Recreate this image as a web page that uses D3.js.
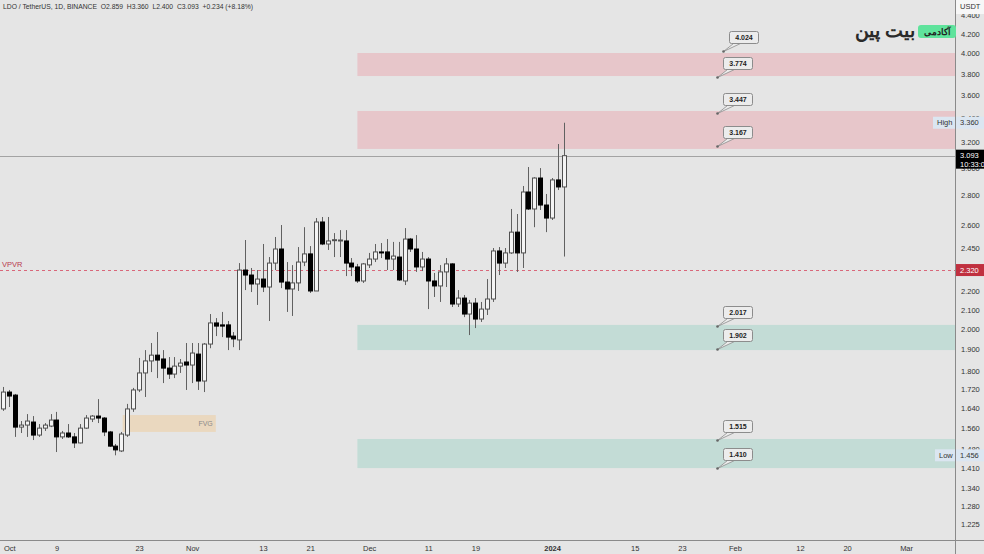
<html>
<head>
<script src="https://cdn.jsdelivr.net/npm/d3@7"></script>
<style>
  body { margin: 0; background: #e5e5e5; overflow: hidden; }
  text { font-family: "Liberation Sans Narrow", "Liberation Sans", Arial, sans-serif; }
</style>
</head>
<body>
<div id="vis"></div>
<script>
// daily candles, first one is 2023-09-30
var firstDay = Date.UTC(2023, 8, 30)
var opens = [1.636,1.707,1.694,1.563,1.571,1.583,1.532,1.559,1.567,1.591,
  1.525,1.540,1.525,1.502,1.559,1.595,1.607,1.599,1.544,1.490,
  1.472,1.532,1.636,1.716,1.791,1.846,1.873,1.855,1.813,1.786,
  1.822,1.841,1.827,1.878,1.755,1.926,2.031,2.021,2.021,1.965,
  1.946,2.320,2.291,2.240,2.268,2.223,2.361,2.446,2.251,2.212,
  2.246,2.367,2.416,2.201,2.618,2.477,2.502,2.500,2.496,2.361,
  2.338,2.257,2.350,2.385,2.428,2.428,2.385,2.397,2.257,2.508,
  2.446,2.338,2.385,2.257,2.229,2.309,2.356,2.130,2.162,2.077,
  2.135,2.051,2.103,2.157,2.434,2.361,2.422,2.552,2.422,2.823,
  2.705,2.924,2.732,2.644,2.910,2.859]
var highs = [1.729,1.716,1.699,1.587,1.615,1.607,1.575,1.579,1.615,1.624,
  1.548,1.575,1.540,1.575,1.611,1.611,1.677,1.603,1.548,1.498,
  1.544,1.657,1.725,1.860,1.897,1.931,1.985,1.897,1.864,1.864,
  1.855,1.931,1.931,1.931,1.931,2.077,2.056,2.088,2.041,1.985,
  2.361,2.502,2.332,2.320,2.477,2.397,2.521,2.598,2.367,2.349,
  2.458,2.584,2.464,2.644,2.651,2.651,2.546,2.565,2.565,2.391,
  2.356,2.361,2.422,2.477,2.483,2.508,2.490,2.490,2.578,2.515,
  2.533,2.428,2.397,2.303,2.349,2.391,2.360,2.206,2.179,2.152,
  2.162,2.141,2.268,2.452,2.458,2.452,2.705,2.671,2.866,3.006,
  2.930,2.998,2.809,2.924,3.185,3.360]
var lows = [1.628,1.644,1.525,1.540,1.525,1.513,1.525,1.548,1.563,1.468,
  1.517,1.521,1.483,1.500,1.556,1.583,1.579,1.528,1.487,1.456,
  1.468,1.525,1.624,1.707,1.686,1.795,1.768,1.746,1.764,1.768,
  1.791,1.716,1.746,1.716,1.707,1.906,1.965,1.960,1.897,1.911,
  1.897,2.206,2.195,2.125,2.195,2.041,2.320,2.217,2.088,2.067,
  2.201,2.343,2.190,2.201,2.470,2.440,2.397,2.397,2.285,2.285,
  2.246,2.246,2.332,2.367,2.391,2.320,2.320,2.257,2.234,2.428,
  2.309,2.314,2.103,2.168,2.141,2.223,2.114,2.114,2.061,1.970,
  2.005,2.036,2.072,2.141,2.291,2.332,2.416,2.309,2.332,2.698,
  2.584,2.698,2.552,2.631,2.837,2.400]
var closes = [1.707,1.690,1.563,1.571,1.587,1.532,1.559,1.571,1.591,1.525,
  1.540,1.525,1.502,1.559,1.599,1.607,1.599,1.544,1.490,1.476,
  1.536,1.636,1.716,1.791,1.846,1.873,1.850,1.813,1.786,1.822,
  1.836,1.827,1.883,1.755,1.926,2.031,2.015,2.015,1.960,1.951,
  2.320,2.291,2.240,2.268,2.223,2.361,2.446,2.251,2.212,2.246,
  2.367,2.416,2.201,2.618,2.477,2.496,2.504,2.502,2.361,2.338,
  2.257,2.356,2.385,2.428,2.422,2.385,2.403,2.263,2.508,2.446,
  2.338,2.385,2.257,2.229,2.309,2.356,2.130,2.162,2.077,2.135,
  2.051,2.103,2.157,2.434,2.361,2.422,2.552,2.422,2.823,2.705,
  2.924,2.732,2.644,2.910,2.859,3.093]

var yTicks = [4.4,4.2,4.0,3.8,3.6,3.4,3.2,3.0,2.8,2.6,2.45,2.3,2.2,2.1,2.0,1.9,1.8,1.72,1.64,1.56,1.48,1.41,1.34,1.28,1.225]
var xTickDates = ["2023-10-01","2023-10-09","2023-10-23","2023-11-01","2023-11-13","2023-11-21","2023-12-01","2023-12-11","2023-12-19","2024-01-01","2024-01-15","2024-01-23","2024-02-01","2024-02-12","2024-02-20","2024-03-01"]
var xTickLabels = ["Oct","9","23","Nov","13","21","Dec","11","19","2024","15","23","Feb","12","20","Mar"]

// supply / demand boxes
var zoneLows  = [3.779, 3.146, 1.897, 1.410]
var zoneHighs = [4.004, 3.461, 2.021, 1.517]
var zoneKinds = ["sell", "sell", "buy", "buy"]
var zoneStart = "2023-11-29"
var fvgRange = [1.544, 1.611]
var fvgDates = ["2023-10-20T05:00Z", "2023-11-05"]

// callout labels
var calloutValues = [4.024, 3.774, 3.447, 3.167, 2.017, 1.902, 1.515, 1.410]
var calloutDates = ["2024-01-30","2024-01-29","2024-01-29","2024-01-29","2024-01-29","2024-01-29","2024-01-29","2024-01-29"]

var lastPrice = 3.093
var vpvrLevel = 2.320
var highPrice = 3.360
var lowPrice = 1.456

var W = 984, H = 554
var plotW = 955, plotH = 540

var candles = opens.map(function(o, i) {
  return { date: new Date(firstDay + i * 864e5), o: o, h: highs[i], l: lows[i], c: closes[i] }
})

var x = d3.scaleUtc()
  .domain([new Date(Date.UTC(2023, 8, 29, 10, 10)), new Date(Date.UTC(2024, 2, 9, 7))])
  .range([0, plotW])
var y = d3.scaleLog().domain([4.575, 1.1767]).range([0, plotH])

var svg = d3.select("#vis").append("svg")
  .attr("width", W).attr("height", H)
  .style("background", "#e5e5e5")

svg.append("defs").append("clipPath").attr("id", "plotClip")
  .append("rect").attr("width", plotW).attr("height", plotH)

var plot = svg.append("g").attr("clip-path", "url(#plotClip)")

// zones
zoneLows.forEach(function(lo, i) {
  plot.append("rect")
    .attr("x", x(new Date(zoneStart)))
    .attr("y", y(zoneHighs[i]))
    .attr("width", plotW - x(new Date(zoneStart)))
    .attr("height", y(lo) - y(zoneHighs[i]))
    .attr("fill", zoneKinds[i] == "sell" ? "#e7c6ca" : "#c3dcd6")
})

// FVG
plot.append("rect")
  .attr("x", x(new Date(fvgDates[0])))
  .attr("y", y(fvgRange[1]))
  .attr("width", x(new Date(fvgDates[1])) - x(new Date(fvgDates[0])))
  .attr("height", y(fvgRange[0]) - y(fvgRange[1]))
  .attr("fill", "#ead8bf")
plot.append("text")
  .attr("x", x(new Date(fvgDates[1])) - 3)
  .attr("y", (y(fvgRange[0]) + y(fvgRange[1])) / 2 + 2.5)
  .attr("text-anchor", "end")
  .attr("font-size", 7).attr("fill", "#8a8a8a")
  .text("FVG")

// last price line
plot.append("line")
  .attr("x1", 0).attr("x2", plotW)
  .attr("y1", Math.round(y(lastPrice)) + 0.5).attr("y2", Math.round(y(lastPrice)) + 0.5)
  .attr("stroke", "#a3a3a3").attr("stroke-width", 1)

// VPVR line
plot.append("line")
  .attr("x1", 0).attr("x2", plotW)
  .attr("y1", Math.round(y(vpvrLevel)) + 0.5).attr("y2", Math.round(y(vpvrLevel)) + 0.5)
  .attr("stroke", "#d9677a").attr("stroke-width", 1)
  .attr("stroke-dasharray", "3,3")
plot.append("text")
  .attr("x", 2).attr("y", y(vpvrLevel) - 3)
  .attr("font-size", 7.5).attr("fill", "#b8384e")
  .text("VPVR")

// candles
var cg = plot.selectAll(".candle").data(candles).enter().append("g")
cg.append("line")
  .attr("x1", function(d) { return Math.round(x(d.date)) + 0.5 })
  .attr("x2", function(d) { return Math.round(x(d.date)) + 0.5 })
  .attr("y1", function(d) { return y(d.h) })
  .attr("y2", function(d) { return y(d.l) })
  .attr("stroke", "#616161").attr("stroke-width", 1)
cg.append("rect")
  .attr("x", function(d) { return Math.round(x(d.date)) - 1.5 })
  .attr("y", function(d) { return y(Math.max(d.o, d.c)) })
  .attr("width", 4)
  .attr("height", function(d) { return Math.max(1, y(Math.min(d.o, d.c)) - y(Math.max(d.o, d.c))) })
  .attr("fill", function(d) { return d.c >= d.o ? "#f4f4f4" : "#000" })
  .attr("stroke", function(d) { return d.c >= d.o ? "#505050" : "#000" })
  .attr("stroke-width", 1)

// callouts
calloutValues.forEach(function(v, i) {
  var dx = Math.round(x(new Date(calloutDates[i]))) + 0.5
  var dy = Math.round(y(v)) + 0.5
  var bx = dx + 6, by = dy - 20, bw = 29, bh = 12
  var g = plot.append("g")
  g.append("path")
    .attr("d", "M" + dx + "," + dy + "L" + (bx + 4) + "," + (by + bh) + "L" + (bx + 11) + "," + (by + bh) + "Z")
    .attr("fill", "#ececec").attr("stroke", "#8c8c8c").attr("stroke-width", 0.8)
  g.append("rect")
    .attr("x", bx).attr("y", by).attr("width", bw).attr("height", bh)
    .attr("rx", 2)
    .attr("fill", "#ececec").attr("stroke", "#8c8c8c").attr("stroke-width", 1)
  g.append("circle").attr("cx", dx).attr("cy", dy).attr("r", 1.3).attr("fill", "#666")
  g.append("text")
    .attr("x", bx + bw / 2).attr("y", by + 8.5)
    .attr("text-anchor", "middle")
    .attr("font-size", 7).attr("font-weight", "bold").attr("fill", "#222")
    .text(d3.format(".3f")(v))
})

// axes
var xAxis = svg.append("g")
  .attr("transform", "translate(0," + plotH + ")")
  .call(d3.axisBottom(x)
    .tickValues(xTickDates.map(function(d) { return new Date(d) }))
    .tickFormat(function(d, i) { return xTickLabels[i] })
    .tickSize(0).tickPadding(6))
xAxis.select(".domain").remove()
xAxis.selectAll("text")
  .attr("font-size", 7.5).attr("fill", "#333")
  .attr("font-weight", function(d, i) { return xTickLabels[i] == "2024" ? "bold" : "normal" })

var yAxis = svg.append("g")
  .attr("transform", "translate(" + plotW + ",0)")
  .call(d3.axisRight(y).tickValues(yTicks).tickFormat(d3.format(".3f")).tickSize(0).tickPadding(6))
yAxis.select(".domain").remove()
yAxis.selectAll("text").attr("font-size", 7.5).attr("fill", "#333")

svg.append("line").attr("x1", plotW + 0.5).attr("x2", plotW + 0.5).attr("y1", 0).attr("y2", H)
  .attr("stroke", "#8a8a8a")
svg.append("line").attr("x1", 0).attr("x2", W).attr("y1", plotH + 0.5).attr("y2", plotH + 0.5)
  .attr("stroke", "#8a8a8a")

// right axis labels
function axisTag(top, h, fill, color, lines) {
  svg.append("rect").attr("x", plotW + 1).attr("y", top).attr("width", W - plotW - 1).attr("height", h).attr("fill", fill)
  lines.forEach(function(t, k) {
    svg.append("text").attr("x", plotW + 5).attr("y", top + 8.5 + k * 9)
      .attr("font-size", 7.5).attr("fill", color).text(t)
  })
}
svg.append("rect").attr("x", 933).attr("y", y(highPrice) - 6).attr("width", 22).attr("height", 12).attr("fill", "#dbe6f1")
svg.append("text").attr("x", 937).attr("y", y(highPrice) + 2.5).attr("font-size", 7.5).attr("fill", "#333").text("High")
axisTag(y(highPrice) - 6, 12, "#dbe6f1", "#333", [d3.format(".3f")(highPrice)])
svg.append("rect").attr("x", 935).attr("y", y(lowPrice) - 6).attr("width", 20).attr("height", 12).attr("fill", "#dbe6f1")
svg.append("text").attr("x", 939).attr("y", y(lowPrice) + 2.5).attr("font-size", 7.5).attr("fill", "#333").text("Low")
axisTag(y(lowPrice) - 6, 12, "#dbe6f1", "#333", [d3.format(".3f")(lowPrice)])
axisTag(y(vpvrLevel) - 6, 12, "#c0303f", "#fff", [d3.format(".3f")(vpvrLevel)])
axisTag(y(lastPrice) - 6, 19, "#000", "#fff", [d3.format(".3f")(lastPrice), "10:33:07"])
axisTag(0, 14, "#f7f7f7", "#333", ["USDT"])

// header
svg.append("text").attr("x", 3).attr("y", 8.5)
  .attr("font-size", 7.5).attr("fill", "#333")
  .attr("xml:space", "preserve")
  .attr("textLength", 250).attr("lengthAdjust", "spacingAndGlyphs")
  .text("LDO / TetherUS, 1D, BINANCE  O2.859  H3.360  L2.400  C3.093  +0.234 (+8.18%)")

// logo
svg.append("rect").attr("x", 918).attr("y", 25).attr("width", 38).attr("height", 13).attr("rx", 3).attr("fill", "#5fe39c")
svg.append("text").attr("x", 937).attr("y", 35).attr("text-anchor", "middle")
  .attr("font-family", "DejaVu Sans").attr("font-size", 9).attr("font-weight", "bold").attr("fill", "#222")
  .text("آکادمی")
svg.append("text").attr("x", 915).attr("y", 37).attr("text-anchor", "end")
  .attr("font-family", "DejaVu Sans").attr("font-size", 19).attr("font-weight", "bold").attr("fill", "#2a2a2a")
  .text("بیت پین")
</script>
</body>
</html>
